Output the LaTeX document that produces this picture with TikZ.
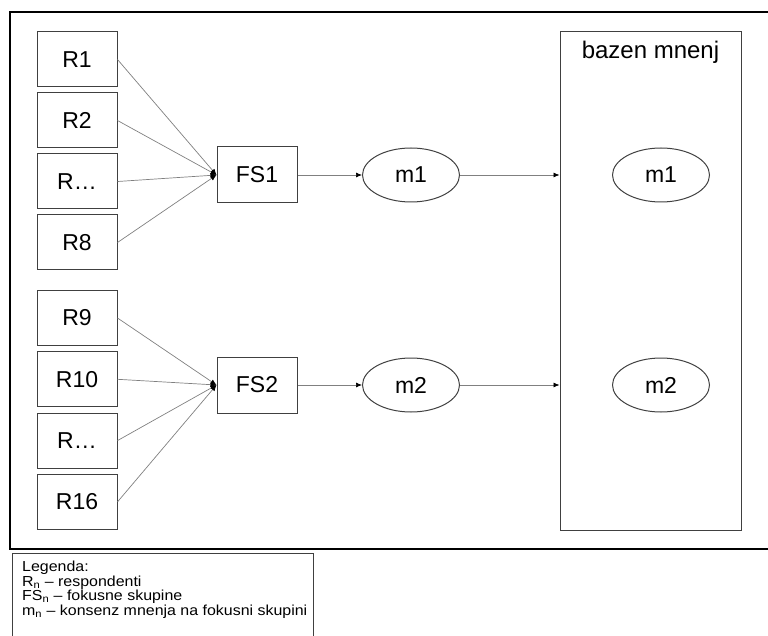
\documentclass[tikz,border=0pt]{standalone}
\usepackage{fontspec}
\setmainfont{Liberation Sans}
\newfontfamily\legendfont[FakeStretch=1.1]{Liberation Sans}
\usetikzlibrary{arrows.meta,shapes.geometric}
\tikzset{
    rbox/.style={draw=black!75, line width=1pt, minimum width=80pt, minimum height=55pt, inner sep=0pt, font=\fontsize{23}{26}\selectfont},
    fsbox/.style={rbox, minimum height=56pt},
    mnode/.style={draw=black!75, line width=1pt, ellipse, minimum width=97pt, minimum height=54pt, inner sep=0pt, font=\fontsize{23}{26}\selectfont},
    link/.style={draw=black!50, line width=0.7pt, -{Latex[length=6pt,width=5pt,color=black]}},
}
\begin{document}
\begin{tikzpicture}[x=1pt,y=-1pt]
        \useasboundingbox (0,0) rectangle (768,636);
        % Outer frame and legend
        \draw[line width=1.2pt] (10,12) rectangle (790,549);
        \draw[line width=1pt, black!75] (12,553) rectangle (313,660);
        \node[anchor=north west, align=left, inner sep=0pt, font=\legendfont\fontsize{14.5}{13.3}\selectfont] (legenda) at (22,561)
            {Legenda:\\R\textsubscript{n} – respondenti\\FS\textsubscript{n} – fokusne skupine\\m\textsubscript{n} – konsenz mnenja na fokusni skupini};
        % Opinion pool
        \node[draw=black!75, line width=1pt, minimum width=181pt, minimum height=498pt, inner sep=0pt] (bazen) at (650.5,281) {};
        \node[font=\fontsize{24}{26}\selectfont] (bazenlbl) at (650.5,52) {bazen mnenj};
        \node[mnode] (b1) at (661,175) {m1};
        \node[mnode] (b2) at (661,385) {m2};
        % Focus groups and their consensus
        \node[fsbox] (fs1) at (257,175) {FS1};
        \node[fsbox] (fs2) at (257,385) {FS2};
        \node[mnode] (m1) at (411,175) {m1};
        \node[mnode] (m2) at (411,385) {m2};
        \foreach \g in {1,2} {
            \draw[link] (fs\g) -- (m\g);
            \draw[link] (m\g) -- (m\g -| bazen.west);
        }
        % Respondents of the first group
        \foreach \lbl [count=\i] in {R1,R2,R…,R8} {
            \node[rbox] (ra\i) at (77,{59.5+61*(\i-1)}) {\lbl};
            \draw[link] (ra\i.east) -- (fs1.west);
        }
        % Respondents of the second group
        \foreach \lbl [count=\i] in {R9,R10,R…,R16} {
            \node[rbox] (rb\i) at (77,{318+61.3*(\i-1)}) {\lbl};
            \draw[link] (rb\i.east) -- (fs2.west);
        }
    \end{tikzpicture}
\end{document}
